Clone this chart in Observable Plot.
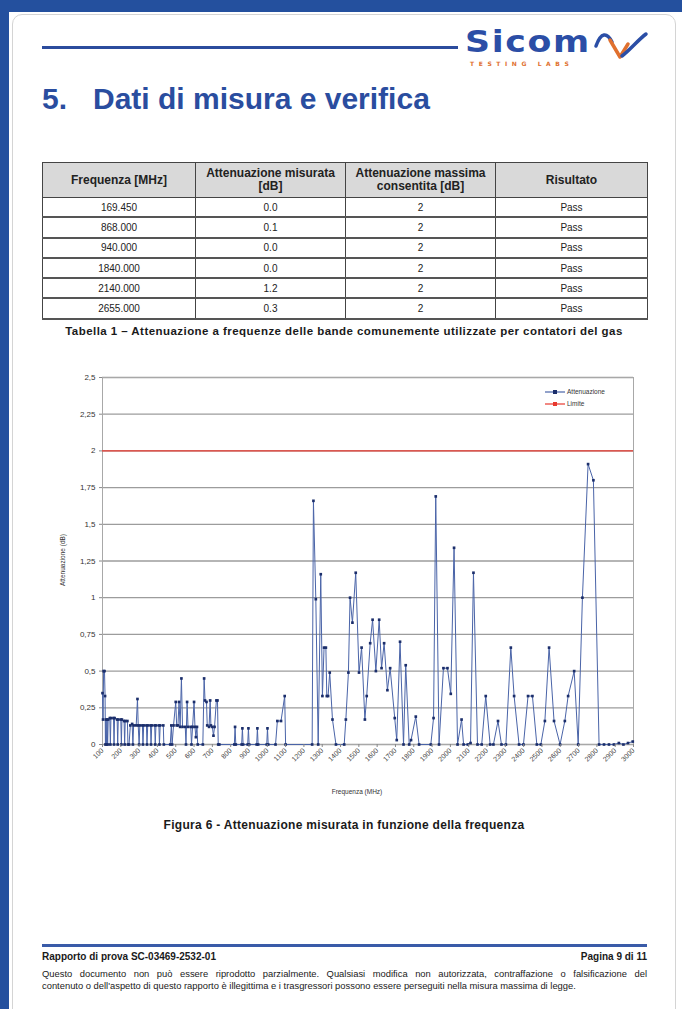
<!DOCTYPE html>
<html lang="it">
<head>
<meta charset="utf-8">
<script src="https://cdn.jsdelivr.net/npm/d3@7"></script>
<script src="https://cdn.jsdelivr.net/npm/@observablehq/plot@0.6"></script>
<style>
  html, body { margin:0; padding:0; }
  body { width:682px; height:1009px; position:relative; overflow:hidden; background:#ffffff;
         font-family:"Liberation Sans", Arial, sans-serif; color:#1a1a1a; }
  .abs { position:absolute; }
  #topband { left:0; top:0; width:682px; height:12px; background:#24509e; }
  #leftband { left:0; top:0; width:9px; height:1009px; background:#24509e; }
  #card { left:12px; top:14px; width:662px; height:1100px; border:1px solid #d4d4d4; border-radius:10px; background:#fff; }
  #hline { left:42px; top:46px; width:416px; height:3px; background:#2b4c9d; }
  #logo { left:465px; top:23px; font-family:"DejaVu Sans", sans-serif; font-weight:bold; font-size:31px; color:#2b4ea6; letter-spacing:1.5px; line-height:normal; transform:scaleX(1.12); transform-origin:left top; }
  #labs { left:470px; top:60px; font-family:"DejaVu Sans", sans-serif; font-weight:bold; font-size:6px; line-height:7px; color:#e0702e; letter-spacing:4.6px; }
  #title5 { left:42px; top:84px; font-size:30px; line-height:30px; font-weight:bold; color:#2a4d9f; }
  #titletxt { left:93px; top:84px; font-size:30px; line-height:30px; font-weight:bold; color:#2a4d9f; white-space:nowrap; }
  table { border-collapse:collapse; table-layout:fixed; }
  #tbl { left:42px; top:162px; width:605px; }
  #tbl th { background:#d9d9d9; font-size:12px; font-weight:bold; height:34px; padding:0 2px; border:1px solid #444; line-height:13px; color:#222; }
  #tbl td { font-size:10px; height:18.3px; padding:0; text-align:center; border-left:1px solid #444; border-right:1px solid #444; border-bottom:2px solid #555; color:#222; }
  #tcap { left:20px; top:325px; width:648px; text-align:center; font-size:11.5px; letter-spacing:0.45px; font-weight:bold; white-space:nowrap; }
  #chart { left:40px; top:365px; }
  #legend { left:545px; top:386px; font-size:6.5px; color:#333; line-height:12px; }
  #legend div { display:flex; align-items:center; }
  #ylab { left:62px; top:560px; font-size:6.5px; color:#333; white-space:nowrap; transform:translate(-50%,-50%) rotate(-90deg); }
  #xlab { left:357px; top:791px; font-size:6.5px; color:#333; white-space:nowrap; transform:translate(-50%,-50%); }
  #fcap { left:20px; top:818px; width:648px; text-align:center; font-size:12px; letter-spacing:0.3px; font-weight:bold; }
  #fline { left:42px; top:944px; width:605px; height:3px; background:#3a5ba8; }
  #fleft { left:42px; top:951px; font-size:10px; font-weight:bold; }
  #fright { left:447px; top:951px; width:200px; text-align:right; font-size:10px; font-weight:bold; }
  #fnote { left:42px; top:968px; width:605px; font-size:9.4px; line-height:12px; white-space:nowrap; }
  #fnote .l1 { text-align:justify; text-align-last:justify; white-space:normal; }
</style>
</head>
<body>
<div id="topband" class="abs"></div>
<div id="leftband" class="abs"></div>
<div id="card" class="abs"></div>
<div id="hline" class="abs"></div>
<div id="logo" class="abs">Sicom</div>
<div id="labs" class="abs">TESTING LABS</div>
<svg class="abs" style="left:592px;top:26px" width="60" height="36" viewBox="0 0 60 36">
  <path d="M4 20 C 9 6, 15 6, 20 16" fill="none" stroke="#2b4ea6" stroke-width="3.5" stroke-linecap="round"/>
  <path d="M18 14 L 28 31 L 36 18" fill="none" stroke="#e0702e" stroke-width="3.5" stroke-linecap="round" stroke-linejoin="round"/>
  <path d="M30 30 C 38 24, 46 14, 54 8" fill="none" stroke="#2b4ea6" stroke-width="3.5" stroke-linecap="round"/>
</svg>
<div id="title5" class="abs">5.</div>
<div id="titletxt" class="abs">Dati di misura e verifica</div>
<div id="tbl" class="abs"></div>
<div id="tcap" class="abs">Tabella 1 – Attenuazione a frequenze delle bande comunemente utilizzate per contatori del gas</div>
<div id="chart" class="abs"></div>
<div id="legend" class="abs"></div>
<div id="ylab" class="abs">Attenuazione (dB)</div>
<div id="xlab" class="abs">Frequenza (MHz)</div>
<div id="fcap" class="abs">Figura 6 - Attenuazione misurata in funzione della frequenza</div>
<div id="fline" class="abs"></div>
<div id="fleft" class="abs">Rapporto di prova SC-03469-2532-01</div>
<div id="fright" class="abs">Pagina 9 di 11</div>
<div id="fnote" class="abs">
  <div class="l1">Questo documento non può essere riprodotto parzialmente. Qualsiasi modifica non autorizzata, contraffazione o falsificazione del</div>
  <div>contenuto o dell'aspetto di questo rapporto è illegittima e i trasgressori possono essere perseguiti nella misura massima di legge.</div>
</div>
<script>
// ---------- Table data ----------
const tableHeaders = ["Frequenza [MHz]", "Attenuazione misurata [dB]", "Attenuazione massima consentita [dB]", "Risultato"];
const tableFreq = ["169.450", "868.000", "940.000", "1840.000", "2140.000", "2655.000"];
const tableMeasured = ["0.0", "0.1", "0.0", "0.0", "1.2", "0.3"];
const tableMax = ["2", "2", "2", "2", "2", "2"];
const tableResult = ["Pass", "Pass", "Pass", "Pass", "Pass", "Pass"];

// ---------- Chart data ----------
const freq = [
  100, 103, 106, 111, 114, 116, 119, 122, 125, 128, 131, 140, 143, 146, 160, 163, 166, 180, 183, 186, 200, 203, 206, 218, 221, 224, 236, 239,
  245, 252, 262, 266, 270, 284, 291, 295, 300, 304, 318, 321, 325, 340, 343, 347, 362, 365, 369, 385, 388, 392, 408, 411, 415, 432, 435, 470,
  476, 480, 488, 500, 505, 512, 518, 524, 531, 537, 552, 556, 562, 567, 582, 586, 592, 600, 605, 610, 616, 620, 648, 655, 660, 668, 672, 682, 688, 692, 700, 706, 712, 722, 728, 732,
  738, 820, 824, 828, 860, 864, 868, 893, 897, 901, 942, 946, 950, 997, 1001, 1005, 1045, 1055, 1075, 1095, 1100, 1245,
  1252, 1265, 1278, 1292, 1301, 1310, 1320, 1325, 1332, 1341, 1356, 1375, 1420, 1429, 1443, 1452, 1465, 1483, 1501, 1515, 1533, 1543, 1562, 1575, 1593, 1611, 1624, 1638, 1656, 1671, 1696, 1707, 1725, 1744, 1756, 1775, 1785, 1811, 1829, 1893,
  1908, 1920, 1938, 1962, 1984, 2002, 2020, 2039, 2061, 2072, 2095, 2110, 2126, 2148, 2171, 2193, 2217, 2235, 2260, 2279, 2303, 2330, 2348, 2375, 2399, 2424, 2448, 2472, 2494, 2516, 2539, 2566, 2599, 2625, 2643, 2676, 2698, 2721, 2752, 2781, 2812, 2839, 2866, 2893, 2920, 2945, 2970, 2996
];
const atten = [
  0.35, 0.17, 0.5, 0.5, 0.33, 0, 0.17, 0, 0.17, 0, 0.17, 0.18, 0, 0.18, 0.18, 0, 0.18, 0.17, 0, 0.17, 0.17, 0, 0.17, 0.16, 0, 0.16, 0.16, 0,
  0, 0.13, 0.14, 0, 0.13, 0.13, 0.31, 0.13, 0, 0.13, 0.13, 0, 0.13, 0.13, 0, 0.13, 0.13, 0, 0.13, 0.13, 0, 0.13, 0.13, 0, 0.13, 0.13, 0, 0,
  0.13, 0, 0.13, 0.29, 0.13, 0.13, 0.29, 0.12, 0.45, 0.12, 0.12, 0, 0.29, 0.12, 0.12, 0, 0.12, 0.29, 0.12, 0.05, 0.12, 0, 0, 0.45, 0.3, 0.29, 0.13, 0.12, 0.3, 0.13, 0.12, 0.06, 0.12, 0.3, 0.3, 0,
  0, 0, 0.12, 0, 0, 0.11, 0, 0, 0.11, 0, 0, 0.11, 0, 0, 0.11, 0, 0, 0.16, 0.16, 0.33, 0, 0,
  1.66, 0.99, 0, 1.16, 0.33, 0.66, 0.66, 0.33, 0.33, 0.49, 0.17, 0, 0, 0.17, 0.49, 1.0, 0.83, 1.17, 0.49, 0.66, 0.17, 0.33, 0.69, 0.85, 0.5, 0.85, 0.52, 0.69, 0.37, 0.52, 0.18, 0.03, 0.7, 0, 0.54, 0, 0.03, 0.19, 0, 0,
  0.18, 1.69, 0, 0.52, 0.52, 0.345, 1.34, 0, 0.17, 0, 0, 0.01, 1.17, 0, 0, 0.33, 0, 0, 0.16, 0, 0, 0.66, 0.33, 0, 0, 0.33, 0.33, 0, 0, 0.16, 0.66, 0.16, 0, 0.16, 0.33, 0.5, 0, 1.0, 1.91, 1.8, 0, 0, 0, 0, 0.01, 0, 0.01, 0.02
];
const limitValue = [2];
const xTicks = [100, 200, 300, 400, 500, 600, 700, 800, 900, 1000, 1100, 1200, 1300, 1400, 1500, 1600, 1700, 1800, 1900, 2000, 2100, 2200, 2300, 2400, 2500, 2600, 2700, 2800, 2900, 3000];
const yTicks = [0, 0.25, 0.5, 0.75, 1, 1.25, 1.5, 1.75, 2, 2.25, 2.5];
const seriesNames = ["Attenuazione", "Limite"];
const seriesColors = ["#4a64a8", "#e8392f"];
const markerColors = ["#1b2e6b", "#e8392f"];

// ---------- Table ----------
{
  const t = document.createElement("table");
  t.style.width = "605px";
  const cg = document.createElement("colgroup");
  [153, 150, 150, 152].forEach(w => { const c = document.createElement("col"); c.style.width = w + "px"; cg.appendChild(c); });
  t.appendChild(cg);
  const hr = document.createElement("tr");
  tableHeaders.forEach(h => { const th = document.createElement("th"); th.textContent = h; hr.appendChild(th); });
  t.appendChild(hr);
  tableFreq.forEach((f, i) => {
    const tr = document.createElement("tr");
    [f, tableMeasured[i], tableMax[i], tableResult[i]].forEach(v => { const td = document.createElement("td"); td.textContent = v; tr.appendChild(td); });
    t.appendChild(tr);
  });
  document.getElementById("tbl").appendChild(t);
}

// ---------- Chart ----------
const data = freq.map((f, i) => ({ f, v: atten[i] }));
const fmtY = d => String(d).replace(".", ",");
const fmtX = d => String(d);
const chart = Plot.plot({
  width: 610,
  height: 435,
  marginLeft: 62,
  marginRight: 17,
  marginTop: 12,
  marginBottom: 56,
  style: { fontFamily: "Liberation Sans, Arial, sans-serif", fontSize: "8px", color: "#333", background: "transparent", overflow: "visible" },
  x: { domain: [100, 3000], label: null },
  y: { domain: [0, 2.5], label: null },
  marks: [
    Plot.gridY(yTicks, { stroke: "#9c9c9c", strokeOpacity: 1, strokeWidth: 1.3 }),
    Plot.frame({ stroke: "#a8a8a8", strokeWidth: 1 }),
    Plot.ruleY(limitValue, { stroke: seriesColors[1], strokeWidth: 1.3 }),
    Plot.line(data, { x: "f", y: "v", stroke: seriesColors[0], strokeWidth: 1 }),
    Plot.dot(data, { x: "f", y: "v", symbol: "square", r: 1.5, fill: markerColors[0], stroke: "none" }),
    Plot.axisY(yTicks, { tickFormat: fmtY, tickSize: 3, tickPadding: 4, fontSize: 8, stroke: "#888", label: null }),
    Plot.axisX(xTicks, { tickFormat: fmtX, tickRotate: -45, tickSize: 3, tickPadding: 2, fontSize: 7, fill: "#444", stroke: "#888", label: null })
  ]
});
document.getElementById("chart").appendChild(chart);

// ---------- Legend ----------
{
  const lg = document.getElementById("legend");
  seriesNames.forEach((name, i) => {
    const row = document.createElement("div");
    row.innerHTML = `<svg width="20" height="8" style="margin-right:2px"><line x1="0" y1="4" x2="20" y2="4" stroke="${seriesColors[i]}" stroke-width="1.2"/><rect x="8" y="2" width="4" height="4" fill="${markerColors[i]}"/></svg><span>${name}</span>`;
    lg.appendChild(row);
  });
}
</script>
</body>
</html>
